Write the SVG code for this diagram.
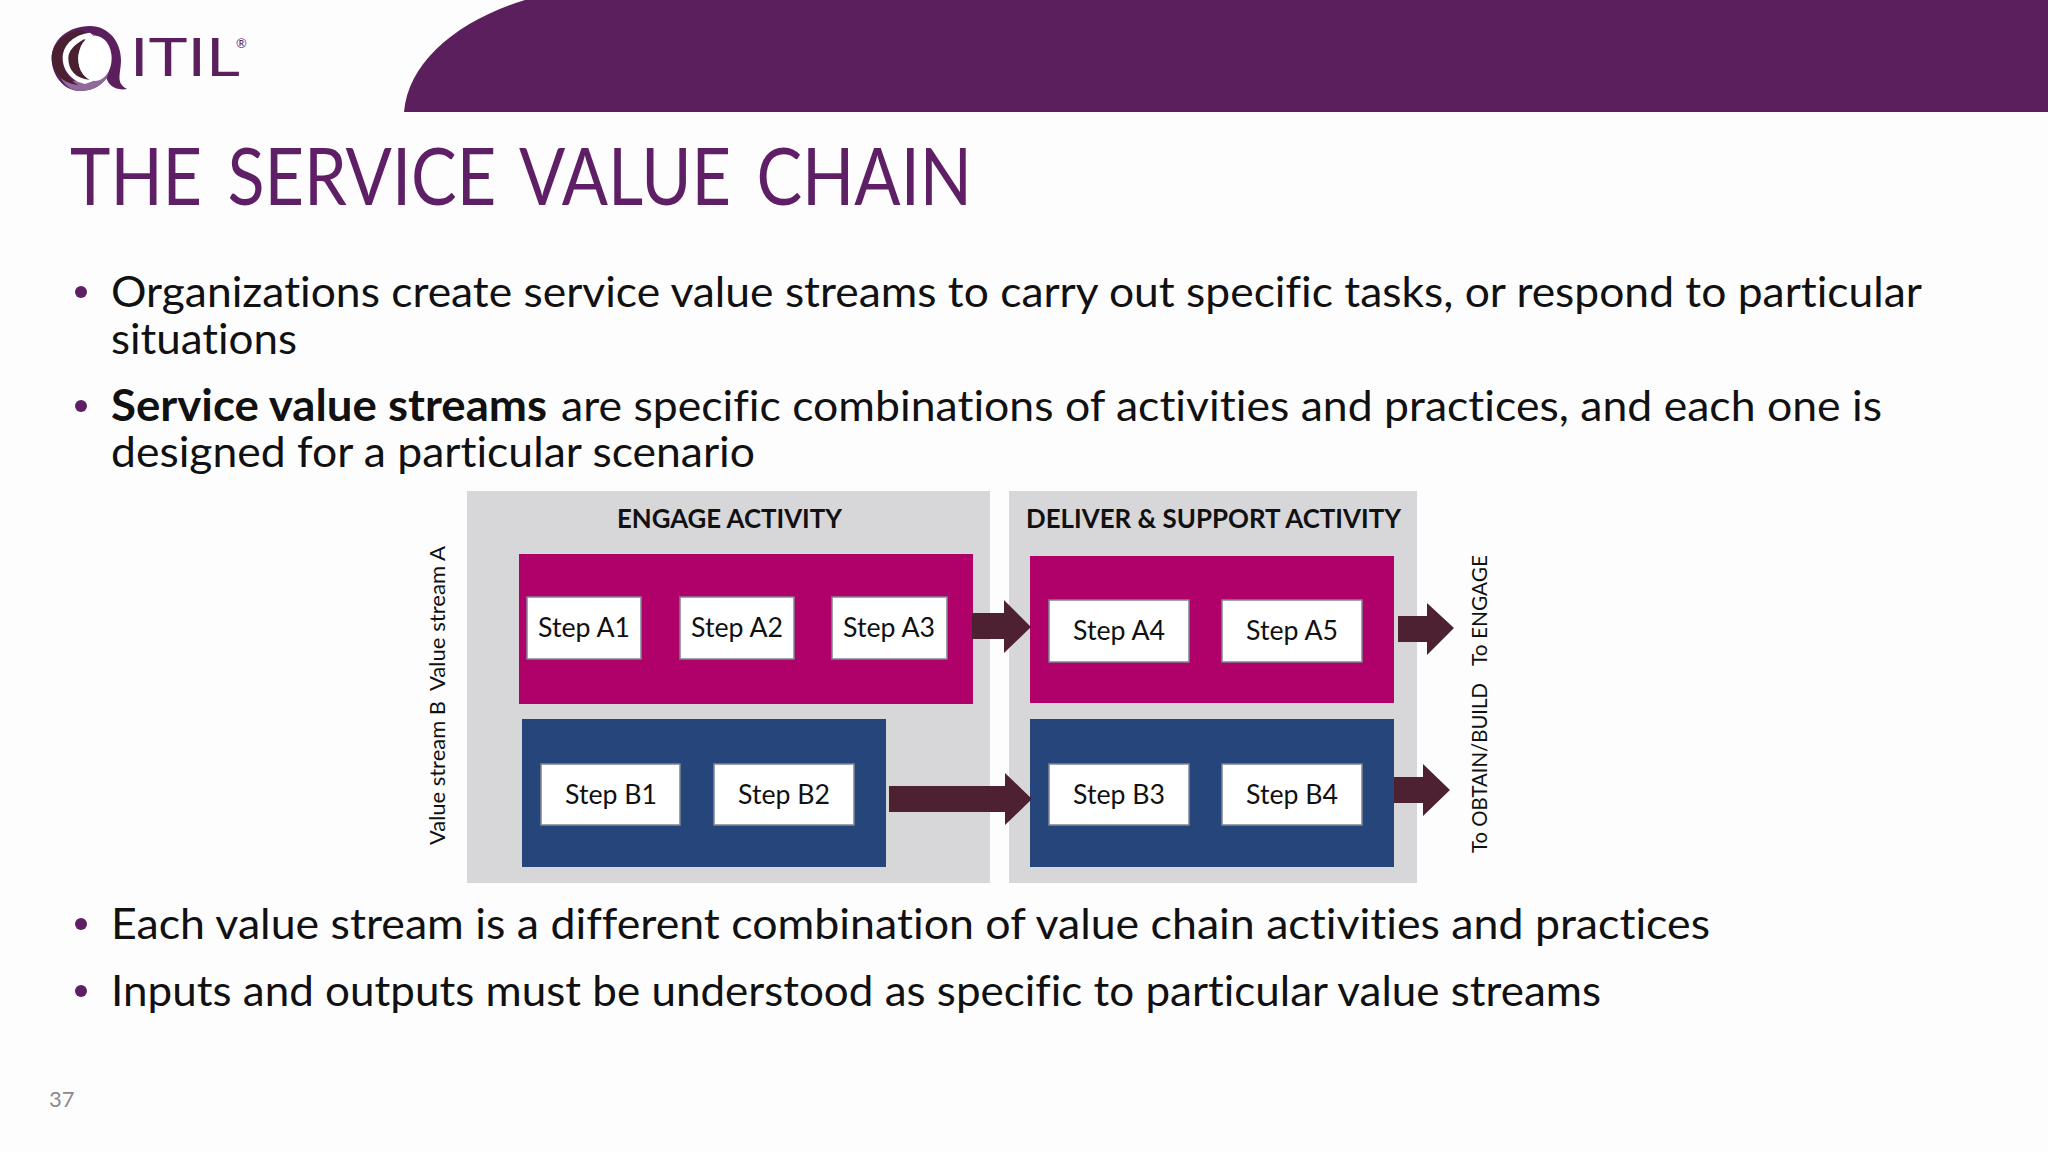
<svg xmlns="http://www.w3.org/2000/svg" width="2048" height="1152" viewBox="0 0 2048 1152">
<style>
text{font-variant-ligatures:none}
.body{font-family:Lato,"Noto Sans",sans-serif;font-size:43px;fill:#111}
.bullet{fill:#5f1f66}
.step{fill:#fff;stroke:#7d8595;stroke-width:1.5}
.stept{font-family:Lato,"Noto Sans",sans-serif;font-size:27px;fill:#111}
.panel{fill:#d7d6d9}
.pink{fill:#b0006a}
.blue{fill:#26457a}
.head{font-family:Lato,"Noto Sans",sans-serif;font-size:27px;font-weight:700;fill:#111}
.side{font-family:Lato,"Noto Sans",sans-serif;font-size:22px;fill:#111}
.arrow{fill:#4e2132}
</style>
<rect width="2048" height="1152" fill="#fefdfe"/>
<g id="banner"><path d="M404 112C408 62 458 20 525 0H2048V112Z" fill="#5c1f5e"/></g>
<g id="logo">
<g transform="translate(40,15) scale(0.3333)">
<path d="M150 33C205 33 243 80 243 135C243 175 225 205 262 222C225 228 205 210 200 190C175 220 150 228 120 228C70 228 35 180 35 130C35 75 85 33 150 33Z" fill="#5c1f5e"/>
<path d="M145 55C190 60 215 100 212 135C210 165 205 175 200 190C175 220 150 228 120 228C95 228 75 212 60 185C100 215 180 200 150 55Z" fill="#8f6a9a"/>
<path d="M120 45C70 55 35 90 35 130C35 165 60 205 115 210C80 190 65 160 68 125C70 90 100 60 145 55Z" fill="#4a2030"/>
<path d="M150 53C95 60 68 95 68 130C68 165 95 200 135 207L160 198L120 130L160 62Z" fill="#fff"/>
<path d="M132 73C100 90 85 110 85 130C85 165 105 190 150 195C125 180 115 160 115 130C115 105 130 85 150 78Z" fill="#4a2030"/>
<ellipse cx="165" cy="130" rx="50" ry="68" fill="#fff"/>
</g>
<text x="130" y="76" font-family="Lato,sans-serif" font-size="53" fill="#5c1f5e" textLength="110" lengthAdjust="spacingAndGlyphs">ITIL</text>
<text x="236" y="48" font-family="Lato,sans-serif" font-size="13" fill="#5c1f5e">®</text>
</g>
<text id="title" x="70" y="205" font-family="Lato,sans-serif" font-size="79" word-spacing="9" fill="#5f1f66" textLength="902" lengthAdjust="spacingAndGlyphs">THE SERVICE VALUE CHAIN</text>
<g id="bullets">
<circle class="bullet" cx="81" cy="292" r="6"/>
<text class="body" x="111" y="307" textLength="1811" lengthAdjust="spacingAndGlyphs">Organizations create service value streams to carry out specific tasks, or respond to particular</text>
<text class="body" x="111" y="354" textLength="186" lengthAdjust="spacingAndGlyphs">situations</text>
<circle class="bullet" cx="81" cy="406" r="6"/>
<text class="body" x="111" y="421" font-weight="700" textLength="436" lengthAdjust="spacingAndGlyphs">Service value streams</text>
<text class="body" x="561" y="421" textLength="1321" lengthAdjust="spacingAndGlyphs">are specific combinations of activities and practices, and each one is</text>
<text class="body" x="111" y="467" textLength="644" lengthAdjust="spacingAndGlyphs">designed for a particular scenario</text>
<circle class="bullet" cx="81" cy="924" r="6"/>
<text class="body" x="111" y="939" textLength="1599" lengthAdjust="spacingAndGlyphs">Each value stream is a different combination of value chain activities and practices</text>
<circle class="bullet" cx="81" cy="991" r="6"/>
<text class="body" x="111" y="1006" textLength="1490" lengthAdjust="spacingAndGlyphs">Inputs and outputs must be understood as specific to particular value streams</text>
</g>
<text id="page" x="49" y="1107" font-family="Lato,sans-serif" font-size="22" fill="#8a8a8a">37</text>
<g id="engage"><rect class="panel" x="467" y="491" width="523" height="392"/><text class="head" x="617" y="528" textLength="225" lengthAdjust="spacingAndGlyphs">ENGAGE ACTIVITY</text></g>
<g id="deliver"><rect class="panel" x="1009" y="491" width="408" height="392"/><text class="head" x="1026" y="528" textLength="375" lengthAdjust="spacingAndGlyphs">DELIVER &amp; SUPPORT ACTIVITY</text></g>
<g id="stream-a1"><rect class="pink" x="519" y="554" width="454" height="150"/></g>
<g id="stream-b1"><rect class="blue" x="522" y="719" width="364" height="148"/></g>
<g id="stream-a2"><rect class="pink" x="1030" y="556" width="364" height="147"/></g>
<g id="stream-b2"><rect class="blue" x="1030" y="719" width="364" height="148"/></g>
<g id="step-a1"><rect class="step" x="527" y="597" width="114" height="62"/><text class="stept" x="538" y="637" textLength="92" lengthAdjust="spacingAndGlyphs">Step A1</text></g>
<g id="step-a2"><rect class="step" x="680" y="597" width="114" height="62"/><text class="stept" x="691" y="637" textLength="92" lengthAdjust="spacingAndGlyphs">Step A2</text></g>
<g id="step-a3"><rect class="step" x="832" y="597" width="115" height="62"/><text class="stept" x="843" y="637" textLength="92" lengthAdjust="spacingAndGlyphs">Step A3</text></g>
<g id="step-a4"><rect class="step" x="1049" y="600" width="140" height="62"/><text class="stept" x="1073" y="640" textLength="92" lengthAdjust="spacingAndGlyphs">Step A4</text></g>
<g id="step-a5"><rect class="step" x="1222" y="600" width="140" height="62"/><text class="stept" x="1246" y="640" textLength="92" lengthAdjust="spacingAndGlyphs">Step A5</text></g>
<g id="step-b1"><rect class="step" x="541" y="764" width="139" height="61"/><text class="stept" x="565" y="804" textLength="92" lengthAdjust="spacingAndGlyphs">Step B1</text></g>
<g id="step-b2"><rect class="step" x="714" y="764" width="140" height="61"/><text class="stept" x="738" y="804" textLength="92" lengthAdjust="spacingAndGlyphs">Step B2</text></g>
<g id="step-b3"><rect class="step" x="1049" y="764" width="140" height="61"/><text class="stept" x="1073" y="804" textLength="92" lengthAdjust="spacingAndGlyphs">Step B3</text></g>
<g id="step-b4"><rect class="step" x="1222" y="764" width="140" height="61"/><text class="stept" x="1246" y="804" textLength="92" lengthAdjust="spacingAndGlyphs">Step B4</text></g>
<g id="connectors">
<path class="arrow" d="M972 613H1004V600L1031 627L1004 653V639H972Z"/>
<path class="arrow" d="M889 786H1005V773L1032 799L1005 825V812H889Z"/>
<path class="arrow" d="M1398 616H1427V603L1454 628L1427 655V642H1398Z"/>
<path class="arrow" d="M1394 777H1423V764L1450 790L1423 816V803H1394Z"/>
</g>
<g id="side-labels">
<text class="side" transform="translate(445,691) rotate(-90)" textLength="145" lengthAdjust="spacingAndGlyphs">Value stream A</text>
<text class="side" transform="translate(445,845) rotate(-90)" textLength="144" lengthAdjust="spacingAndGlyphs">Value stream B</text>
<text class="side" transform="translate(1487,666) rotate(-90)" textLength="111" lengthAdjust="spacingAndGlyphs">To ENGAGE</text>
<text class="side" transform="translate(1487,853) rotate(-90)" textLength="170" lengthAdjust="spacingAndGlyphs">To OBTAIN/BUILD</text>
</g>
</svg>
